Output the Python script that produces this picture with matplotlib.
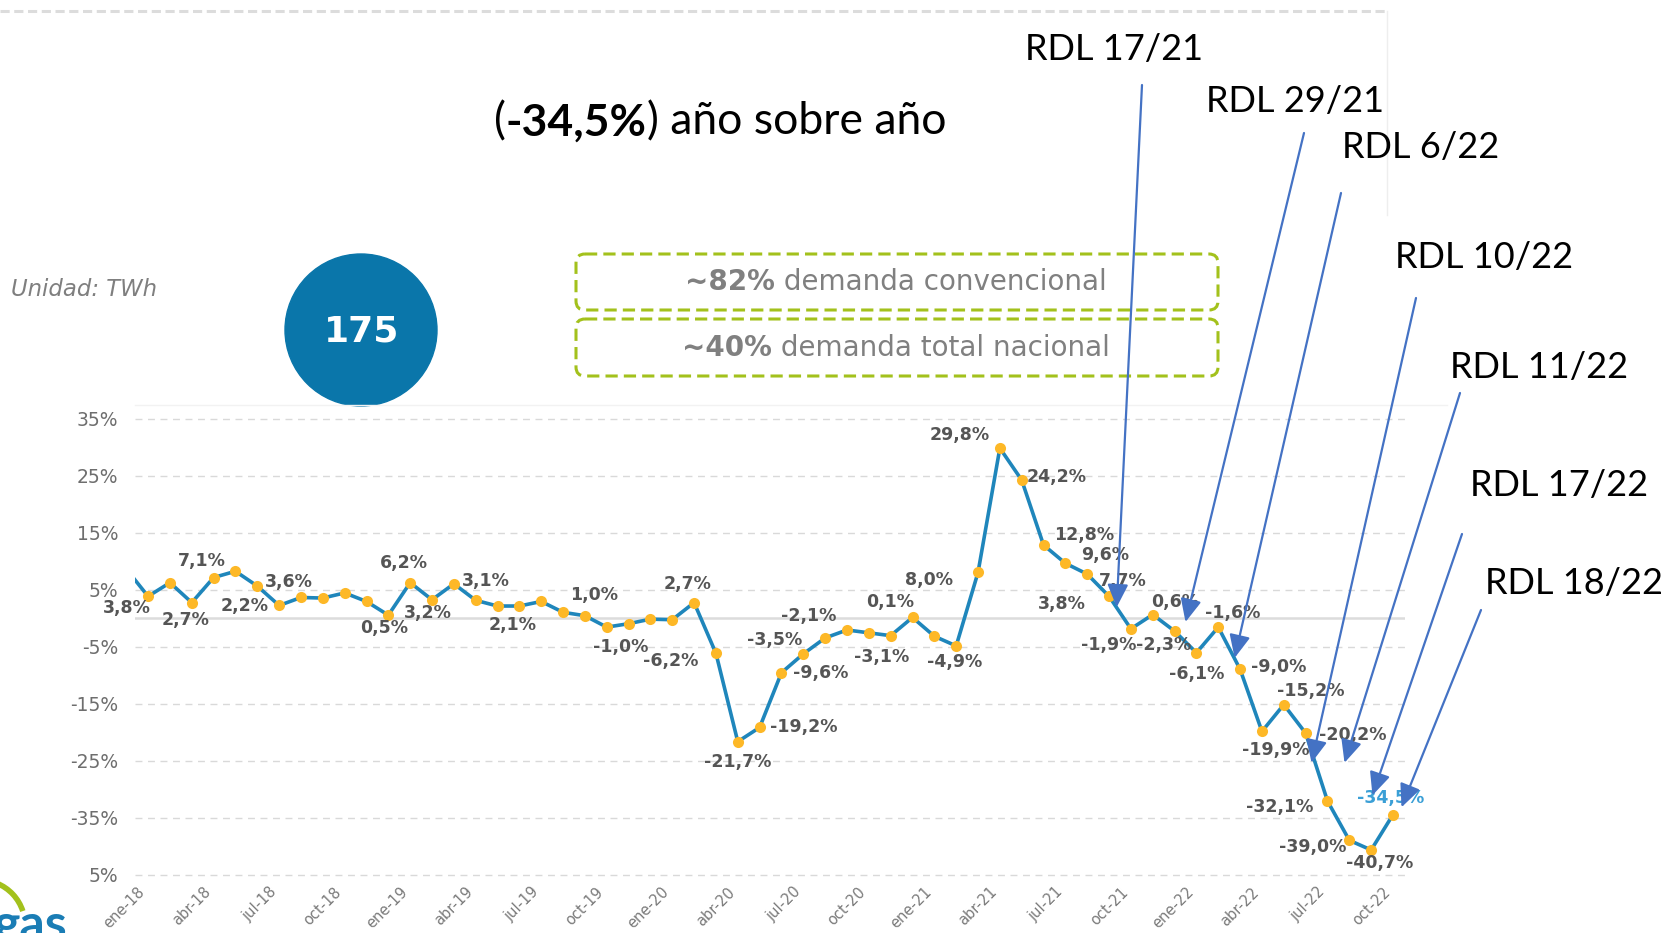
import matplotlib
matplotlib.use("Agg")
import matplotlib.pyplot as plt
from matplotlib.patches import Circle, FancyBboxPatch, Arc

# data (monthly, dic-17 .. oct-22, % year over year)
months = list(range(-1, 58))   # -1 = dic-17 (clipped at the left edge)
growth = [8.6,
          3.8, 6.2, 2.7, 7.1, 8.2, 5.6, 2.2, 3.6, 3.5, 4.4, 2.9, 0.5,
          6.2, 3.2, 6.0, 3.1, 2.1, 2.1, 2.9, 1.0, 0.4, -1.6, -1.0, -0.2,
          -0.3, 2.7, -6.2, -21.7, -19.2, -9.6, -6.3, -3.5, -2.1, -2.6, -3.1, 0.1,
          -3.2, -4.9, 8.0, 29.8, 24.2, 12.8, 9.6, 7.7, 3.8, -1.9, 0.6, -2.3,
          -6.1, -1.6, -9.0, -19.9, -15.2, -20.2, -32.1, -39.0, -40.7, -34.5]

xtick_pos = list(range(0, 58, 3))
xtick_labels = ["ene-18", "abr-18", "jul-18", "oct-18",
                "ene-19", "abr-19", "jul-19", "oct-19",
                "ene-20", "abr-20", "jul-20", "oct-20",
                "ene-21", "abr-21", "jul-21", "oct-21",
                "ene-22", "abr-22", "jul-22", "oct-22"]
ytick_pos = [35, 25, 15, 5, -5, -15, -25, -35, -45]
ytick_labels = ["35%", "25%", "15%", "5%", "-5%", "-15%", "-25%", "-35%", "5%"]

# which points carry a value label (month index)
labelled = [0, 2, 3, 6, 7, 11, 12, 13, 15, 17, 19, 22, 25, 26, 27, 28, 29, 31, 32,
            34, 35, 37, 38, 39, 40, 41, 42, 43, 44, 45, 46, 47, 48, 49, 50, 51,
            52, 53, 54, 55, 56, 57]

rdl_names = ["RDL 17/21", "RDL 29/21", "RDL 6/22", "RDL 10/22",
             "RDL 11/22", "RDL 17/22", "RDL 18/22"]
# where each arrow points (month index, %)
rdl_targets = [(44.35, 1.9), (47.5, -0.7), (49.75, -7.0), (53.27, -25.4),
               (54.78, -25.4), (56.06, -31.1), (57.39, -33.2)]

# ---- layout (pixels, top-left origin) ----
W, H = 1666, 933
label_off = {0: (-21, 12), 2: (-6, 17), 3: (-12, -17), 6: (-35, 1), 7: (-12, -15),
             11: (-4, 13), 12: (-6, -20), 13: (-4, 13), 15: (10, -19), 17: (-7, 19),
             19: (31, -17), 22: (-8, 23), 25: (-7, -19), 26: (-45, 8), 27: (0, 20),
             28: (44, 0), 29: (39, 0), 31: (-51, 2), 32: (-38, -14), 34: (-9, 21),
             35: (-22, -15), 37: (-2, 16), 38: (-49, 8), 39: (-40, -13), 40: (35, -3),
             41: (41, -10), 42: (40, -8), 43: (36, 7), 44: (-47, 8), 45: (-22, 16),
             46: (22, -13), 47: (-11, 14), 48: (0, 21), 49: (14, -14), 50: (39, -2),
             51: (14, 19), 52: (27, -14), 53: (47, 2), 54: (-48, 6), 55: (-37, 7),
             56: (8, 13), 57: (-2, -17)}
rdl_text_pos = [(1025, 49), (1206, 101), (1342, 147), (1395, 257),
                (1450, 368), (1470, 486), (1485, 583)]
rdl_arrow_start = [(1142, 85), (1304, 133), (1341, 193), (1416, 298),
                   (1460, 393), (1462, 534), (1481, 610)]

fig = plt.figure(figsize=(W / 100, H / 100), dpi=100)
fig.patch.set_facecolor("white")

# main chart
ax_top, ax_bot = 412.8, 880.2
ax = fig.add_axes([135 / W, (H - ax_bot) / H, 1270 / W, (ax_bot - ax_top) / H])
ax.set_xlim(-0.6, 57.55)
ax.set_ylim(-46, 36)
for s in ax.spines.values():
    s.set_visible(False)
ax.set_yticks(ytick_pos)
ax.set_yticklabels(ytick_labels)
ax.set_xticks(xtick_pos)
ax.set_xticklabels(xtick_labels, rotation=45, ha="right")
ax.tick_params(axis="y", length=0, pad=12, labelsize=13.5, labelcolor="#6e6e6e")
ax.tick_params(axis="x", length=0, pad=3, labelsize=10.5, labelcolor="#7a7a7a")
ax.grid(axis="y", color="#d9d9d9", linestyle=(0, (5, 4)), lw=1)
ax.axhline(0, color="#dcdcdc", lw=1.8, zorder=1)

ax.plot(months, growth, color="#1f86bb", lw=2.6, marker="o", ms=8,
        mfc="#fdb827", mec="none", zorder=3)

for i in labelled:
    v = growth[i + 1]
    txt = f"{v:.1f}%".replace(".", ",")
    dx, dy = label_off[i]
    col = "#3a9fd6" if i == 57 else "#555555"
    ax.annotate(txt, xy=(i, v), xytext=(dx, -dy), textcoords="offset pixels",
                ha="center", va="center", fontsize=12.5, fontweight="bold",
                color=col, zorder=4)

# overlay in pixel coordinates
ov = fig.add_axes([0, 0, 1, 1], zorder=5)
ov.set_xlim(0, W)
ov.set_ylim(H, 0)
ov.axis("off")
ov.patch.set_alpha(0)

ov.plot([0, 1387], [11, 11], color="#dcdcdc", lw=2.2, linestyle=(0, (3, 1.5)))
ov.plot([1387, 1387], [11, 215], color="#eeeeee", lw=1)
ov.plot([135, 1447], [405, 405], color="#f2f2f2", lw=1)

# title with bold value
t1 = ov.text(494, 122, "(", fontfamily="Lato", fontsize=32, va="center", ha="left")
t2 = ov.annotate("-34,5%", xy=(1, 0), xycoords=t1, va="bottom", ha="left",
                 fontfamily="Lato", fontsize=32, fontweight="bold")
ov.annotate(") año sobre año", xy=(1, 0), xycoords=t2, va="bottom", ha="left",
            fontfamily="Lato", fontsize=32)

ov.text(11, 289, "Unidad: TWh", fontsize=16.4, style="italic", color="#7f7f7f",
        va="center", ha="left")

ov.add_patch(Circle((361, 330), 76, color="#0a76aa"))
ov.text(362, 331, "175", color="white", fontsize=26, fontweight="bold",
        ha="center", va="center")

for (top, bot, bold, rest, x0) in [(254, 310, "~82%", " demanda convencional", 685),
                                   (319, 376, "~40%", " demanda total nacional", 682)]:
    ov.add_patch(FancyBboxPatch((576, top), 1218 - 576, bot - top,
                                boxstyle="round,pad=0,rounding_size=9",
                                fill=False, ec="#a3c11c", lw=2.2,
                                linestyle=(0, (4, 2))))
    tb = ov.text(x0, (top + bot) / 2, bold, fontsize=20, fontweight="bold",
                 color="#808080", va="center", ha="left")
    ov.annotate(rest, xy=(1, 0), xycoords=tb, va="bottom", ha="left",
                fontsize=20, color="#808080")

# RDL labels and arrows
for name, tp, st, tgt in zip(rdl_names, rdl_text_pos, rdl_arrow_start, rdl_targets):
    ov.text(tp[0], tp[1], name, fontfamily="Lato", fontsize=26, va="center",
            ha="left", color="black")
    ov.annotate("", xy=tgt, xycoords=ax.transData, xytext=st, textcoords="data",
                arrowprops=dict(arrowstyle="-|>,head_length=0.7,head_width=0.32",
                                color="#4472c4", lw=1.6, shrinkA=0, shrinkB=0,
                                mutation_scale=20))

# logo fragment bottom-left
ov.add_patch(Arc((-20, 925), 90, 90, theta1=-68, theta2=-18, color="#a3c11c", lw=4))
ov.text(-6, 940, "gas", fontfamily="Lato", fontweight="bold", fontsize=36,
        color="#1a7db5", va="baseline", ha="left")

fig.savefig("out.png", dpi=100)
